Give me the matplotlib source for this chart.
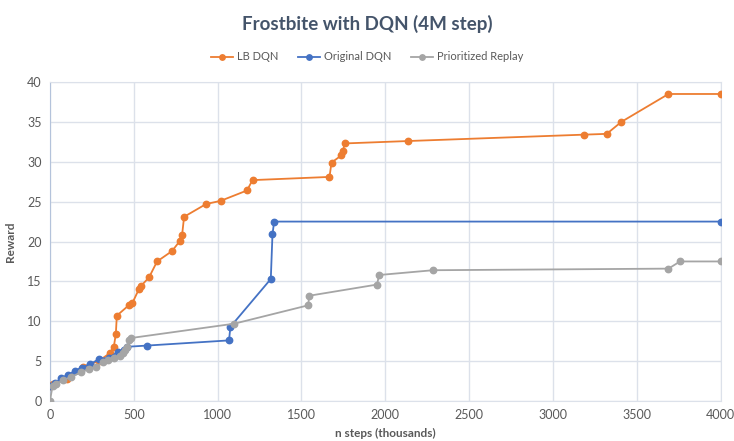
import matplotlib.pyplot as plt

# reward curves, steps in thousands
lb_steps = [0, 20, 100, 198, 290, 357, 381, 393, 399, 470, 492, 530, 542, 591, 639, 728,
            776, 788, 800, 931, 1018, 1175, 1208, 1667, 1679, 1738, 1746, 1758, 2135,
            3184, 3320, 3407, 3688, 4000]
lb_reward = [1.9, 2.1, 2.8, 4.3, 5.0, 6.0, 6.8, 8.4, 10.7, 12.0, 12.3, 14.0, 14.4, 15.5, 17.5, 18.8,
             20.1, 20.8, 23.1, 24.7, 25.1, 26.4, 27.7, 28.1, 29.9, 30.8, 31.3, 32.3, 32.6,
             33.4, 33.5, 35.0, 38.5, 38.5]

dqn_steps = [0, 30, 66, 110, 151, 189, 240, 295, 350, 408, 440, 460, 578, 1068, 1076,
             1317, 1327, 1337, 4000]
dqn_reward = [1.9, 2.2, 2.9, 3.3, 3.8, 4.2, 4.6, 5.3, 5.4, 6.2, 6.4, 6.8, 6.95, 7.6, 9.3,
              15.3, 20.9, 22.5, 22.5]

per_steps = [0, 16, 36, 76, 125, 185, 235, 275, 315, 345, 380, 420, 434, 450, 462, 474, 484,
             1100, 1540, 1546, 1950, 1963, 2284, 3688, 3757, 4000]
per_reward = [0, 1.9, 2.1, 2.6, 3.0, 3.6, 4.05, 4.3, 4.85, 5.2, 5.4, 5.6, 6.0, 6.4, 6.8, 7.6, 7.9,
              9.7, 12.0, 13.2, 14.6, 15.8, 16.4, 16.6, 17.5, 17.5]

plt.rcParams['font.family'] = ['Lato', 'DejaVu Sans']
text_color = '#595959'
grid_color = '#DCE1EA'

fig = plt.figure(figsize=(7.34, 4.41), dpi=100)
ax = fig.add_axes([0.068, 0.0907, 0.914, 0.7233])

ax.plot(lb_steps, lb_reward, '-o', color='#ED7D31', lw=1.3, ms=4.6, label='LB DQN', zorder=3)
ax.plot(dqn_steps, dqn_reward, '-o', color='#4472C4', lw=1.3, ms=4.6, label='Original DQN', zorder=3)
ax.plot(per_steps, per_reward, '-o', color='#A5A5A5', lw=1.3, ms=4.6, label='Prioritized Replay', zorder=3)

ax.set_xlim(0, 4000)
ax.set_ylim(0, 40)
ax.set_xticks(range(0, 4001, 500))
ax.set_yticks(range(0, 41, 5))
ax.grid(True, color=grid_color, lw=1)
ax.set_axisbelow(True)
ax.spines['top'].set_color(grid_color)
ax.spines['right'].set_color(grid_color)
ax.spines['left'].set_color('#B4C3DB')
ax.spines['bottom'].set_color(grid_color)
ax.tick_params(length=0, colors=text_color, labelsize=9, pad=6)

ax.set_xlabel('n steps (thousands)', fontsize=8.5, fontweight='bold', color=text_color, labelpad=5)
ax.set_ylabel('Reward', fontsize=8.5, fontweight='bold', color=text_color, labelpad=8)

fig.text(0.5, 0.945, 'Frostbite with DQN (4M step)', ha='center', va='center',
         fontsize=13.5, fontweight='bold', color='#44546A')
fig.legend(loc='center', bbox_to_anchor=(0.5, 0.871), ncol=3, frameon=False,
           fontsize=8, labelcolor=text_color, handlelength=2.0, handletextpad=0.3,
           columnspacing=1.8, markerscale=0.85)

fig.savefig('out.png', dpi=100)
